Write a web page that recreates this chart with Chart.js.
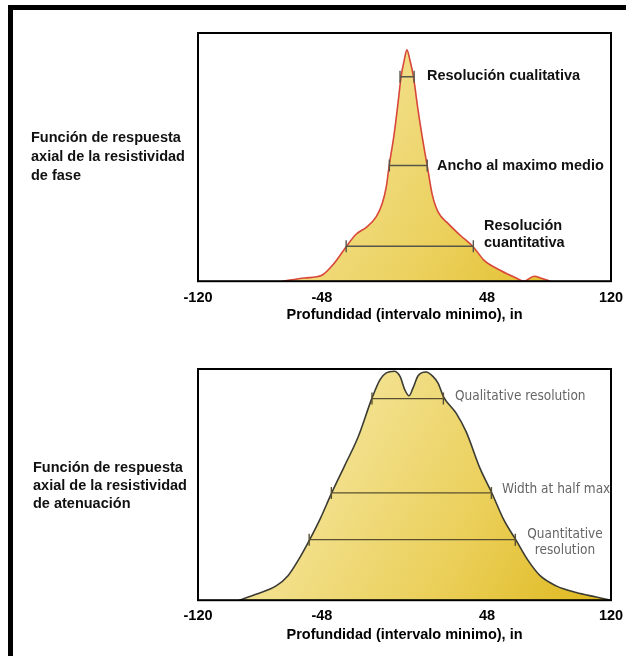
<!DOCTYPE html>
<html>
<head>
<meta charset="utf-8">
<script src="https://cdn.jsdelivr.net/npm/chart.js@4.4.1/dist/chart.umd.min.js"></script>
<style>
  html, body { margin: 0; padding: 0; background: #fff; }
  body { width: 626px; height: 656px; position: relative; overflow: hidden; font-family: "Liberation Sans", Arial, sans-serif; }
  #marco { position: absolute; left: 8px; top: 5px; width: 640px; height: 700px; border-left: 5px solid #000; border-top: 5px solid #000; }
  .panel { position: absolute; left: 0; width: 626px; height: 328px; }
  .etiqueta { position: absolute; font-weight: bold; font-size: 14.5px; line-height: 19px; color: #111; }
</style>
</head>
<body>
<div id="marco"></div>
<div class="panel" style="top:0"><canvas id="graficoFase" width="626" height="328"></canvas></div>
<div class="panel" style="top:328px"><canvas id="graficoAtenuacion" width="626" height="328"></canvas></div>
<div class="etiqueta" style="left:31px;top:128px">Función de respuesta<br>axial de la resistividad<br>de fase</div>
<div class="etiqueta" style="left:33px;top:458px;line-height:18px">Función de respuesta<br>axial de la resistividad<br>de atenuación</div>
<script>
// eje x comun (pulgadas)
const ticksProfundidad = [-120, -48, 48, 120];

// respuesta de fase (respuesta normalizada 0..1)
const faseX = [-71, -58, -48, -41, -34, -28, -22, -16.5, -13, -10.6, -8.9, -6, -3.6, -1.9, -0.2, 1.4, 3.2, 5.1, 7.9, 11.3, 13.2, 16, 19.5, 25.4, 32.4, 40, 46.3, 55.6, 64.9, 69.5, 75.3, 80, 84.7];
const faseY = [0, 0.013, 0.024, 0.071, 0.138, 0.19, 0.218, 0.259, 0.312, 0.38, 0.466, 0.594, 0.728, 0.828, 0.889, 0.932, 0.889, 0.828, 0.688, 0.54, 0.466, 0.353, 0.279, 0.232, 0.185, 0.138, 0.084, 0.044, 0.013, 0, 0.02, 0.011, 0];

// respuesta de atenuacion
const atenX = [-96, -86.3, -74.6, -67.7, -61.9, -55.4, -49, -42.5, -35.1, -26.9, -18.9, -14.2, -10.6, -6, -2.6, 0.2, 2.6, 4.9, 7.9, 12.6, 16.5, 19.5, 22.6, 30, 35.8, 43.9, 50.5, 57.9, 64.4, 71.9, 78.8, 88.1, 99.8, 111.4, 120];
const atenY = [0, 0.026, 0.062, 0.106, 0.171, 0.258, 0.352, 0.461, 0.577, 0.707, 0.874, 0.954, 0.983, 0.99, 0.968, 0.91, 0.884, 0.917, 0.971, 0.987, 0.968, 0.939, 0.881, 0.809, 0.729, 0.57, 0.468, 0.345, 0.265, 0.171, 0.106, 0.062, 0.033, 0.014, 0];

// anchos de resolucion: [x inicio, x fin, nivel]
const faseCualitativa = [-2.6, 5.6, 0.824];
const faseMaximoMedio = [-8.8, 13.2, 0.466];
const faseCuantitativa = [-33.9, 40, 0.141];
const atenCualitativa = [-18.9, 22.6, 0.872];
const atenMaximoMedio = [-42.5, 50.5, 0.464];
const atenCuantitativa = [-55.4, 64.4, 0.262];

function puntos(xs, ys) {
  return xs.map((x, i) => ({ x: x, y: ys[i] }));
}
function barra(r) {
  return [{ x: r[0], y: r[2] }, { x: r[1], y: r[2] }];
}

function relleno(ctx) {
  const area = ctx.chart.chartArea;
  if (!area) return '#efd86a';
  const g = ctx.chart.ctx.createLinearGradient(area.left, area.top, area.right, area.bottom);
  g.addColorStop(0, '#f9f2c4');
  g.addColorStop(0.35, '#f2e08c');
  g.addColorStop(0.65, '#ebd05c');
  g.addColorStop(1, '#dfb81c');
  return g;
}

const marcoPlugin = {
  id: 'marcoPlugin',
  afterDraw(chart) {
    const a = chart.chartArea, c = chart.ctx;
    c.save();
    c.lineWidth = 2;
    c.strokeStyle = '#000';
    c.strokeRect(a.left, a.top, a.right - a.left, a.bottom - a.top);
    c.restore();
  }
};

const notasPlugin = {
  id: 'notas',
  afterDatasetsDraw(chart, args, opts) {
    const c = chart.ctx, a = chart.chartArea;
    c.save();
    c.beginPath();
    c.rect(a.left, 0, a.right - a.left, chart.height);
    c.clip();
    c.font = opts.font;
    c.fillStyle = opts.color;
    c.textBaseline = 'middle';
    opts.items.forEach(it => {
      c.textAlign = it.align || 'left';
      c.fillText(it.text, it.x, it.y);
    });
    c.restore();
  }
};

function opciones(padding, tickPad, titlePad, notas) {
  return {
    responsive: false,
    animation: false,
    devicePixelRatio: 1,
    layout: { padding: padding },
    plugins: {
      legend: { display: false },
      tooltip: { enabled: false },
      notas: notas
    },
    scales: {
      x: {
        type: 'linear',
        min: -120,
        max: 120,
        afterBuildTicks: axis => { axis.ticks = ticksProfundidad.map(v => ({ value: v })); },
        // las etiquetas extremas pueden salir del recuadro
        afterFit: axis => { axis.paddingLeft = 0; axis.paddingRight = 0; },
        grid: { display: false, drawTicks: false },
        border: { display: false },
        ticks: {
          padding: tickPad,
          maxRotation: 0,
          color: '#000',
          font: { family: 'Liberation Sans', size: 14.5, weight: 'bold' }
        },
        title: {
          display: true,
          text: 'Profundidad (intervalo minimo), in',
          color: '#000',
          padding: titlePad,
          font: { family: 'Liberation Sans', size: 14.5, weight: 'bold' }
        }
      },
      y: { display: false, min: 0, max: 1 }
    }
  };
}

function conjuntosBarras(lista, color) {
  return lista.map(r => ({
    data: barra(r),
    order: 0,
    showLine: true,
    borderColor: color,
    borderWidth: 1.4,
    pointStyle: 'line',
    pointRotation: 90,
    pointRadius: 6,
    pointBorderColor: color,
    pointBorderWidth: 1.4,
    fill: false
  }));
}

new Chart(document.getElementById('graficoFase'), {
  type: 'line',
  data: {
    datasets: [
      {
        data: puntos(faseX, faseY),
        order: 1,
        borderColor: '#d8473a',
        borderWidth: 1.6,
        backgroundColor: relleno,
        fill: 'origin',
        pointRadius: 0,
        cubicInterpolationMode: 'monotone'
      },
      ...conjuntosBarras([faseCualitativa, faseMaximoMedio, faseCuantitativa], '#55554a')
    ]
  },
  options: opciones({ left: 198, right: 15, top: 33, bottom: 0 }, 8, { top: -8, bottom: 4 }, {
    font: 'bold 14.5px "Liberation Sans", Arial, sans-serif',
    color: '#111',
    items: [
      { text: 'Resolución cualitativa', x: 427, y: 76 },
      { text: 'Ancho al maximo medio', x: 437, y: 166 },
      { text: 'Resolución', x: 484, y: 226 },
      { text: 'cuantitativa', x: 484, y: 243 }
    ]
  }),
  plugins: [marcoPlugin, notasPlugin]
});

new Chart(document.getElementById('graficoAtenuacion'), {
  type: 'line',
  data: {
    datasets: [
      {
        data: puntos(atenX, atenY),
        order: 1,
        borderColor: '#3c3c34',
        borderWidth: 1.6,
        backgroundColor: relleno,
        fill: 'origin',
        pointRadius: 0,
        cubicInterpolationMode: 'monotone'
      },
      ...conjuntosBarras([atenCualitativa, atenMaximoMedio, atenCuantitativa], '#5a5030')
    ]
  },
  options: opciones({ left: 198, right: 15, top: 41, bottom: 10 }, 7, { top: -5, bottom: 2 }, {
    font: '13.5px "DejaVu Sans Condensed", "Liberation Sans Narrow", sans-serif',
    color: '#666',
    items: [
      { text: 'Qualitative resolution', x: 455, y: 68 },
      { text: 'Width at half maxi', x: 502, y: 161 },
      { text: 'Quantitative', x: 565, y: 206, align: 'center' },
      { text: 'resolution', x: 565, y: 222, align: 'center' }
    ]
  }),
  plugins: [marcoPlugin, notasPlugin]
});
</script>
</body>
</html>
